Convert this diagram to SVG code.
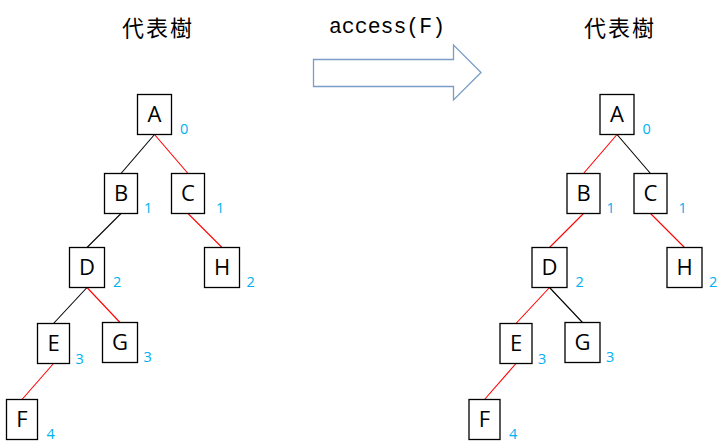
<svg xmlns="http://www.w3.org/2000/svg" width="725" height="447" viewBox="0 0 725 447">
<style>
.box{fill:#fff;stroke:#000;stroke-width:1.3}
.lbl{font-family:"Open Sans","Liberation Sans",sans-serif;font-size:22px;fill:#000;text-anchor:middle}
.num{font-family:"Open Sans","Liberation Sans",sans-serif;font-size:14.5px;fill:#00B0F0}
.title{font-family:"Noto Sans CJK TC","Noto Sans CJK JP",sans-serif;font-size:22px;fill:#000;text-anchor:middle;letter-spacing:2px}
.k{stroke:#000;stroke-width:1.1}
.r{stroke:#FF0000;stroke-width:1.1}
</style>
<rect width="725" height="447" fill="#fff"/>
<text class="title" x="158" y="36">代表樹</text>
<text class="title" x="620" y="36">代表樹</text>
<text x="387" y="33" font-family="'Liberation Mono','DejaVu Sans Mono',monospace" font-size="21.5" text-anchor="middle" fill="#000">access(F)</text>
<g id="arrow">
<polygon points="313.5,59.5 453.5,59.5 453.5,45 481,72.5 453.5,100 453.5,86.5 313.5,86.5" fill="#fff" stroke="#7A9CC6" stroke-width="1.3"/>
</g>
<g id="connectors">
<line class="k" x1="154.5" y1="134.5" x2="121" y2="173.5"/>
<line class="r" x1="154.5" y1="134.5" x2="188" y2="173.5"/>
<line class="k" x1="121" y1="213.5" x2="87" y2="247.5"/>
<line class="r" x1="188" y1="213.5" x2="222" y2="247.5"/>
<line class="k" x1="87" y1="287.5" x2="53.5" y2="323.5"/>
<line class="r" x1="87" y1="287.5" x2="120" y2="322.5"/>
<line class="r" x1="53.5" y1="363.5" x2="22" y2="399.5"/>
<line class="r" x1="617" y1="134.5" x2="583.5" y2="173.5"/>
<line class="k" x1="617" y1="134.5" x2="650.5" y2="173.5"/>
<line class="r" x1="583.5" y1="213.5" x2="549.5" y2="247.5"/>
<line class="r" x1="650.5" y1="213.5" x2="684.5" y2="247.5"/>
<line class="r" x1="549.5" y1="287.5" x2="516" y2="323.5"/>
<line class="k" x1="549.5" y1="287.5" x2="582.5" y2="322.5"/>
<line class="r" x1="516" y1="363.5" x2="484.5" y2="399.5"/>
</g>
<g id="L-A"><rect class="box" x="137.5" y="94.5" width="34" height="40"/><text class="lbl" x="154.5" y="122">A</text><text class="num" x="180" y="133.5">0</text></g>
<g id="L-B"><rect class="box" x="104.5" y="173.5" width="33" height="40"/><text class="lbl" x="121" y="201">B</text><text class="num" x="144" y="213">1</text></g>
<g id="L-C"><rect class="box" x="171.5" y="173.5" width="33" height="40"/><text class="lbl" x="188" y="201">C</text><text class="num" x="216" y="213">1</text></g>
<g id="L-D"><rect class="box" x="69.5" y="247.5" width="35" height="40"/><text class="lbl" x="87" y="275">D</text><text class="num" x="113" y="287">2</text></g>
<g id="L-H"><rect class="box" x="204.5" y="247.5" width="35" height="40"/><text class="lbl" x="222" y="275">H</text><text class="num" x="246.5" y="287">2</text></g>
<g id="L-E"><rect class="box" x="37.5" y="323.5" width="32" height="40"/><text class="lbl" x="53.5" y="351">E</text><text class="num" x="75.5" y="363.5">3</text></g>
<g id="L-G"><rect class="box" x="102.5" y="322.5" width="35" height="40"/><text class="lbl" x="120" y="350">G</text><text class="num" x="143.5" y="362">3</text></g>
<g id="L-F"><rect class="box" x="6.5" y="399.5" width="31" height="40"/><text class="lbl" x="22" y="427">F</text><text class="num" x="46.5" y="439">4</text></g>
<g id="R-A"><rect class="box" x="600" y="94.5" width="34" height="40"/><text class="lbl" x="617" y="122">A</text><text class="num" x="642.5" y="133.5">0</text></g>
<g id="R-B"><rect class="box" x="567" y="173.5" width="33" height="40"/><text class="lbl" x="583.5" y="201">B</text><text class="num" x="606.5" y="213">1</text></g>
<g id="R-C"><rect class="box" x="634" y="173.5" width="33" height="40"/><text class="lbl" x="650.5" y="201">C</text><text class="num" x="678.5" y="213">1</text></g>
<g id="R-D"><rect class="box" x="532" y="247.5" width="35" height="40"/><text class="lbl" x="549.5" y="275">D</text><text class="num" x="575.5" y="287">2</text></g>
<g id="R-H"><rect class="box" x="667" y="247.5" width="35" height="40"/><text class="lbl" x="684.5" y="275">H</text><text class="num" x="709" y="287">2</text></g>
<g id="R-E"><rect class="box" x="500" y="323.5" width="32" height="40"/><text class="lbl" x="516" y="351">E</text><text class="num" x="538" y="363.5">3</text></g>
<g id="R-G"><rect class="box" x="565" y="322.5" width="35" height="40"/><text class="lbl" x="582.5" y="350">G</text><text class="num" x="606" y="362">3</text></g>
<g id="R-F"><rect class="box" x="469" y="399.5" width="31" height="40"/><text class="lbl" x="484.5" y="427">F</text><text class="num" x="509" y="439">4</text></g>
</svg>
